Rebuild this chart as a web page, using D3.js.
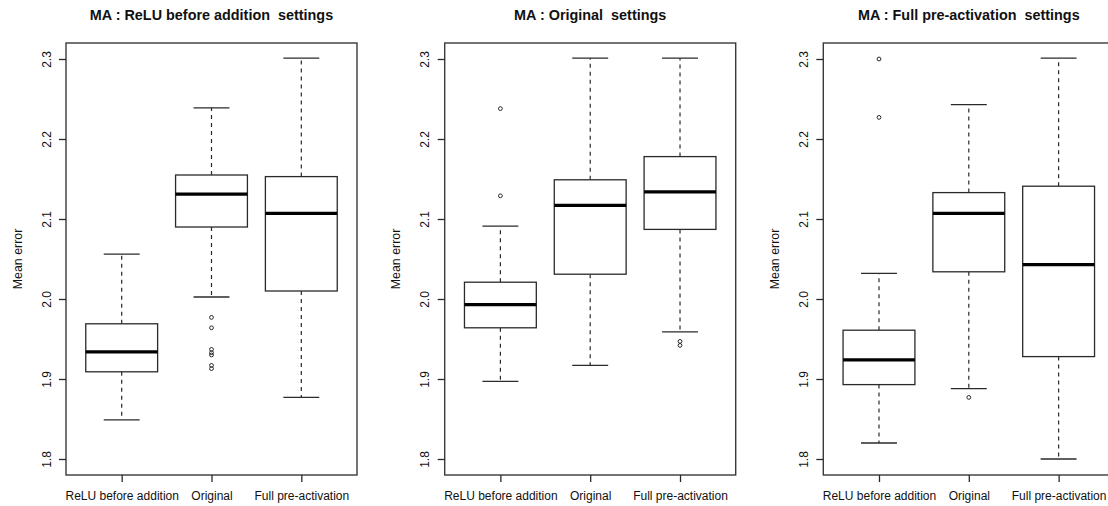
<!DOCTYPE html>
<html>
<head>
<meta charset="utf-8">
<script src="https://cdn.jsdelivr.net/npm/d3@7"></script>
<style>
  html, body { margin: 0; padding: 0; background: #fff; }
  svg { display: block; }
  text { font-family: "Liberation Sans", Arial, Helvetica, sans-serif; fill: #111; white-space: pre; }
</style>
</head>
<body>
<svg id="chart" width="1108" height="506"></svg>
<script>
// ---------- data ----------
const categories = ["ReLU before addition", "Original", "Full pre-activation"];
const panelTitles = [
  "MA : ReLU before addition  settings",
  "MA : Original  settings",
  "MA : Full pre-activation  settings"
];
const yTicks = [1.8, 1.9, 2.0, 2.1, 2.2, 2.3];
const yLabel = "Mean error";

// one row per panel, one value per category
const lowerWhisker = [
  [1.849, 2.0025, 1.877],
  [1.897, 1.917, 1.959],
  [1.820, 1.888, 1.800]
];
const lowerQuartile = [
  [1.909, 2.090, 2.010],
  [1.964, 2.031, 2.087],
  [1.893, 2.034, 1.928]
];
const medians = [
  [1.934, 2.131, 2.107],
  [1.993, 2.117, 2.134],
  [1.924, 2.107, 2.043]
];
const upperQuartile = [
  [1.969, 2.155, 2.153],
  [2.021, 2.149, 2.178],
  [1.961, 2.133, 2.141]
];
const upperWhisker = [
  [2.056, 2.239, 2.301],
  [2.091, 2.301, 2.301],
  [2.032, 2.243, 2.301]
];
const outliers = [
  [[], [1.977, 1.964, 1.937, 1.933, 1.930, 1.917, 1.913], []],
  [[2.238, 2.129], [], [1.947, 1.942]],
  [[2.300, 2.227], [1.877], []]
];

// ---------- layout ----------
const panelLeft = [66, 444.7, 823.3];
const plotW = 291, plotTop = 43, plotBottom = 475;
const lineColor = "#2a2a2a";

const svg = d3.select("#chart");

panelTitles.forEach((title, p) => {
  const left = panelLeft[p];
  const g = svg.append("g");

  const x = d3.scaleLinear().domain([0.38, 3.62]).range([left, left + plotW]);
  const y = d3.scaleLinear().domain([1.78, 2.32]).range([plotBottom, plotTop]);
  const unit = x(1) - x(0);
  const boxW = 0.8 * unit, capW = 0.4 * unit;

  categories.forEach((c, i) => {
    const cx = x(i + 1);
    const lo = lowerWhisker[p][i], q1 = lowerQuartile[p][i], md = medians[p][i],
          q3 = upperQuartile[p][i], hi = upperWhisker[p][i];
    g.append("line").attr("x1", cx).attr("x2", cx).attr("y1", y(q3)).attr("y2", y(hi))
      .attr("stroke", lineColor).attr("stroke-width", 1.2).attr("stroke-dasharray", "4,4");
    g.append("line").attr("x1", cx).attr("x2", cx).attr("y1", y(q1)).attr("y2", y(lo))
      .attr("stroke", lineColor).attr("stroke-width", 1.2).attr("stroke-dasharray", "4,4");
    [lo, hi].forEach(v => {
      g.append("line").attr("x1", cx - capW / 2).attr("x2", cx + capW / 2)
        .attr("y1", y(v)).attr("y2", y(v))
        .attr("stroke", lineColor).attr("stroke-width", 1.3);
    });
    g.append("rect").attr("x", cx - boxW / 2).attr("width", boxW)
      .attr("y", y(q3)).attr("height", y(q1) - y(q3))
      .attr("fill", "#fff").attr("stroke", lineColor).attr("stroke-width", 1.3);
    g.append("line").attr("x1", cx - boxW / 2).attr("x2", cx + boxW / 2)
      .attr("y1", y(md)).attr("y2", y(md))
      .attr("stroke", "#000").attr("stroke-width", 3.2);
    outliers[p][i].forEach(v => {
      g.append("circle").attr("cx", cx).attr("cy", y(v)).attr("r", 1.9)
        .attr("fill", "none").attr("stroke", lineColor).attr("stroke-width", 1);
    });
  });

  g.append("rect").attr("x", left).attr("y", plotTop)
    .attr("width", plotW).attr("height", plotBottom - plotTop)
    .attr("fill", "none").attr("stroke", "#3a3a3a").attr("stroke-width", 1.4);

  const xAxis = d3.axisBottom(x).tickValues([1, 2, 3])
    .tickFormat(d => categories[d - 1]).tickSize(7).tickPadding(10);
  const gx = g.append("g").attr("transform", `translate(0,${plotBottom})`).call(xAxis);
  gx.select(".domain").remove();
  gx.selectAll(".tick line").attr("stroke", lineColor).attr("stroke-width", 1.3);
  gx.selectAll(".tick text").attr("font-size", 12).attr("fill", "#111")
    .attr("font-family", "'Liberation Sans', Arial, sans-serif")
    .attr("y", 25).attr("dy", 0);

  const yAxis = d3.axisLeft(y).tickValues(yTicks).tickFormat(d3.format(".1f")).tickSize(7);
  const gy = g.append("g").attr("transform", `translate(${left},0)`).call(yAxis);
  gy.select(".domain").remove();
  gy.selectAll(".tick line").attr("stroke", lineColor).attr("stroke-width", 1.3);
  gy.selectAll(".tick text").attr("font-size", 12).attr("fill", "#111")
    .attr("font-family", "'Liberation Sans', Arial, sans-serif")
    .attr("x", null).attr("dy", null)
    .attr("text-anchor", "middle")
    .attr("transform", "translate(-15.5,0) rotate(-90)");

  g.append("text")
    .attr("transform", `translate(${left - 44.5},${(plotTop + plotBottom) / 2}) rotate(-90)`)
    .attr("text-anchor", "middle").attr("font-size", 12.4).text(yLabel);

  g.append("text")
    .attr("x", left + plotW / 2).attr("y", 19.5)
    .attr("text-anchor", "middle").attr("font-size", 14.4).attr("font-weight", "bold")
    .attr("xml:space", "preserve")
    .text(title);
});
</script>
</body>
</html>
